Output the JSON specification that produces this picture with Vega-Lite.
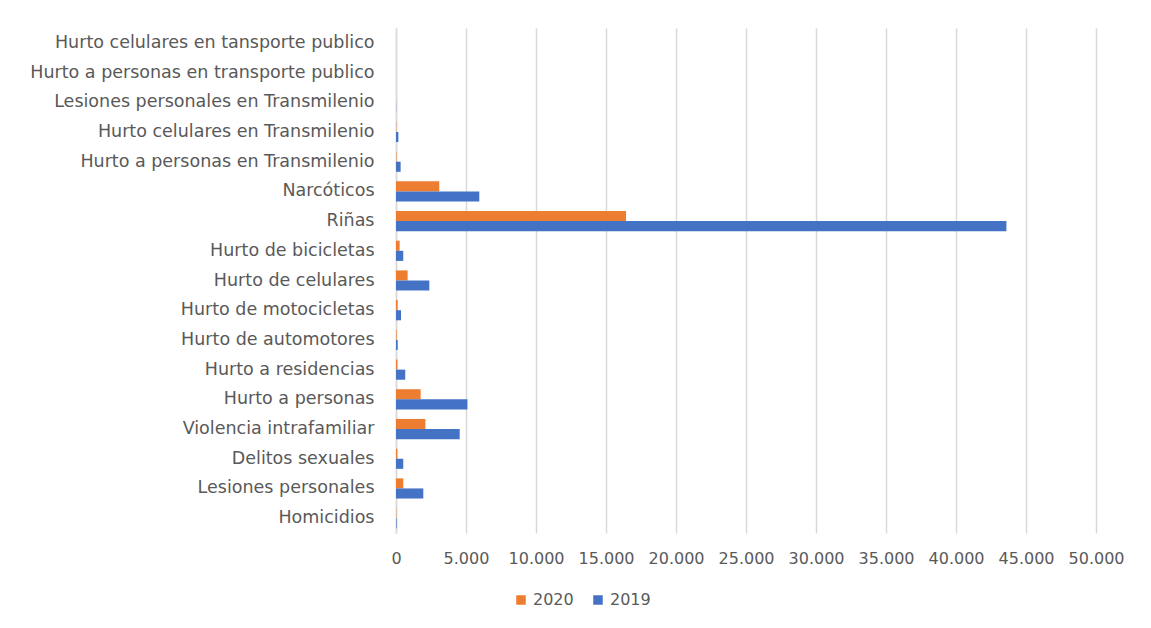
{
  "$schema": "https://vega.github.io/schema/vega-lite/v6.json",
  "width": 700,
  "height": 505,
  "autosize": "none",
  "padding": {"left": 396, "top": 28, "right": 55, "bottom": 95},
  "background": "white",
  "config": {
    "locale": {"number": {"decimal": ",", "thousands": ".", "grouping": [3], "currency": ["", " €"]}},
    "view": {"stroke": null},
    "font": "DejaVu Sans",
    "axis": {"labelFont": "DejaVu Sans", "labelColor": "#595959", "labelFontSize": 16, "ticks": false},
    "legend": {"labelFont": "DejaVu Sans", "labelColor": "#595959", "labelFontSize": 16}
  },
  "data": {
    "values": [
      {"categoria": "Hurto celulares en tansporte publico", "anio": "2020", "valor": 0},
      {"categoria": "Hurto celulares en tansporte publico", "anio": "2019", "valor": 0},
      {"categoria": "Hurto a personas en transporte publico", "anio": "2020", "valor": 0},
      {"categoria": "Hurto a personas en transporte publico", "anio": "2019", "valor": 0},
      {"categoria": "Lesiones personales en Transmilenio", "anio": "2020", "valor": 0},
      {"categoria": "Lesiones personales en Transmilenio", "anio": "2019", "valor": 10},
      {"categoria": "Hurto celulares en Transmilenio", "anio": "2020", "valor": 20},
      {"categoria": "Hurto celulares en Transmilenio", "anio": "2019", "valor": 170},
      {"categoria": "Hurto a personas en Transmilenio", "anio": "2020", "valor": 30},
      {"categoria": "Hurto a personas en Transmilenio", "anio": "2019", "valor": 330},
      {"categoria": "Narcóticos", "anio": "2020", "valor": 3090},
      {"categoria": "Narcóticos", "anio": "2019", "valor": 5950},
      {"categoria": "Riñas", "anio": "2020", "valor": 16430},
      {"categoria": "Riñas", "anio": "2019", "valor": 43600},
      {"categoria": "Hurto de bicicletas", "anio": "2020", "valor": 260},
      {"categoria": "Hurto de bicicletas", "anio": "2019", "valor": 520},
      {"categoria": "Hurto de celulares", "anio": "2020", "valor": 830},
      {"categoria": "Hurto de celulares", "anio": "2019", "valor": 2380},
      {"categoria": "Hurto de motocicletas", "anio": "2020", "valor": 120},
      {"categoria": "Hurto de motocicletas", "anio": "2019", "valor": 360},
      {"categoria": "Hurto de automotores", "anio": "2020", "valor": 40},
      {"categoria": "Hurto de automotores", "anio": "2019", "valor": 120},
      {"categoria": "Hurto a residencias", "anio": "2020", "valor": 100},
      {"categoria": "Hurto a residencias", "anio": "2019", "valor": 660},
      {"categoria": "Hurto a personas", "anio": "2020", "valor": 1760},
      {"categoria": "Hurto a personas", "anio": "2019", "valor": 5100},
      {"categoria": "Violencia intrafamiliar", "anio": "2020", "valor": 2100},
      {"categoria": "Violencia intrafamiliar", "anio": "2019", "valor": 4550},
      {"categoria": "Delitos sexuales", "anio": "2020", "valor": 100},
      {"categoria": "Delitos sexuales", "anio": "2019", "valor": 520},
      {"categoria": "Lesiones personales", "anio": "2020", "valor": 520},
      {"categoria": "Lesiones personales", "anio": "2019", "valor": 1950},
      {"categoria": "Homicidios", "anio": "2020", "valor": 20},
      {"categoria": "Homicidios", "anio": "2019", "valor": 40}
    ]
  },
  "mark": {"type": "bar"},
  "encoding": {
    "y": {
      "field": "categoria",
      "type": "nominal",
      "sort": null,
      "scale": {"paddingInner": 0.32, "paddingOuter": 0.16},
      "axis": {"title": null, "labelPadding": 22, "labelLimit": 400, "labelFontSize": 17.5, "domain": true, "domainColor": "#d9d9d9", "domainWidth": 1.5, "grid": false}
    },
    "yOffset": {"field": "anio", "type": "nominal", "sort": ["2020", "2019"]},
    "x": {
      "field": "valor",
      "type": "quantitative",
      "scale": {"domain": [0, 50000], "nice": false},
      "axis": {"title": null, "values": [0, 5000, 10000, 15000, 20000, 25000, 30000, 35000, 40000, 45000, 50000], "format": ",d", "labelPadding": 17, "labelOverlap": false, "labelBound": false, "labelFlush": false, "domain": false, "grid": true, "gridColor": "#d9d9d9", "gridWidth": 1.5}
    },
    "color": {
      "field": "anio",
      "type": "nominal",
      "scale": {"domain": ["2020", "2019"], "range": ["#ED7D31", "#4472C4"]},
      "legend": {"title": null, "orient": "none", "legendX": 117, "legendY": 564, "direction": "horizontal", "symbolType": "square", "symbolSize": 90, "columnPadding": 16, "labelOffset": 4}
    }
  }
}
